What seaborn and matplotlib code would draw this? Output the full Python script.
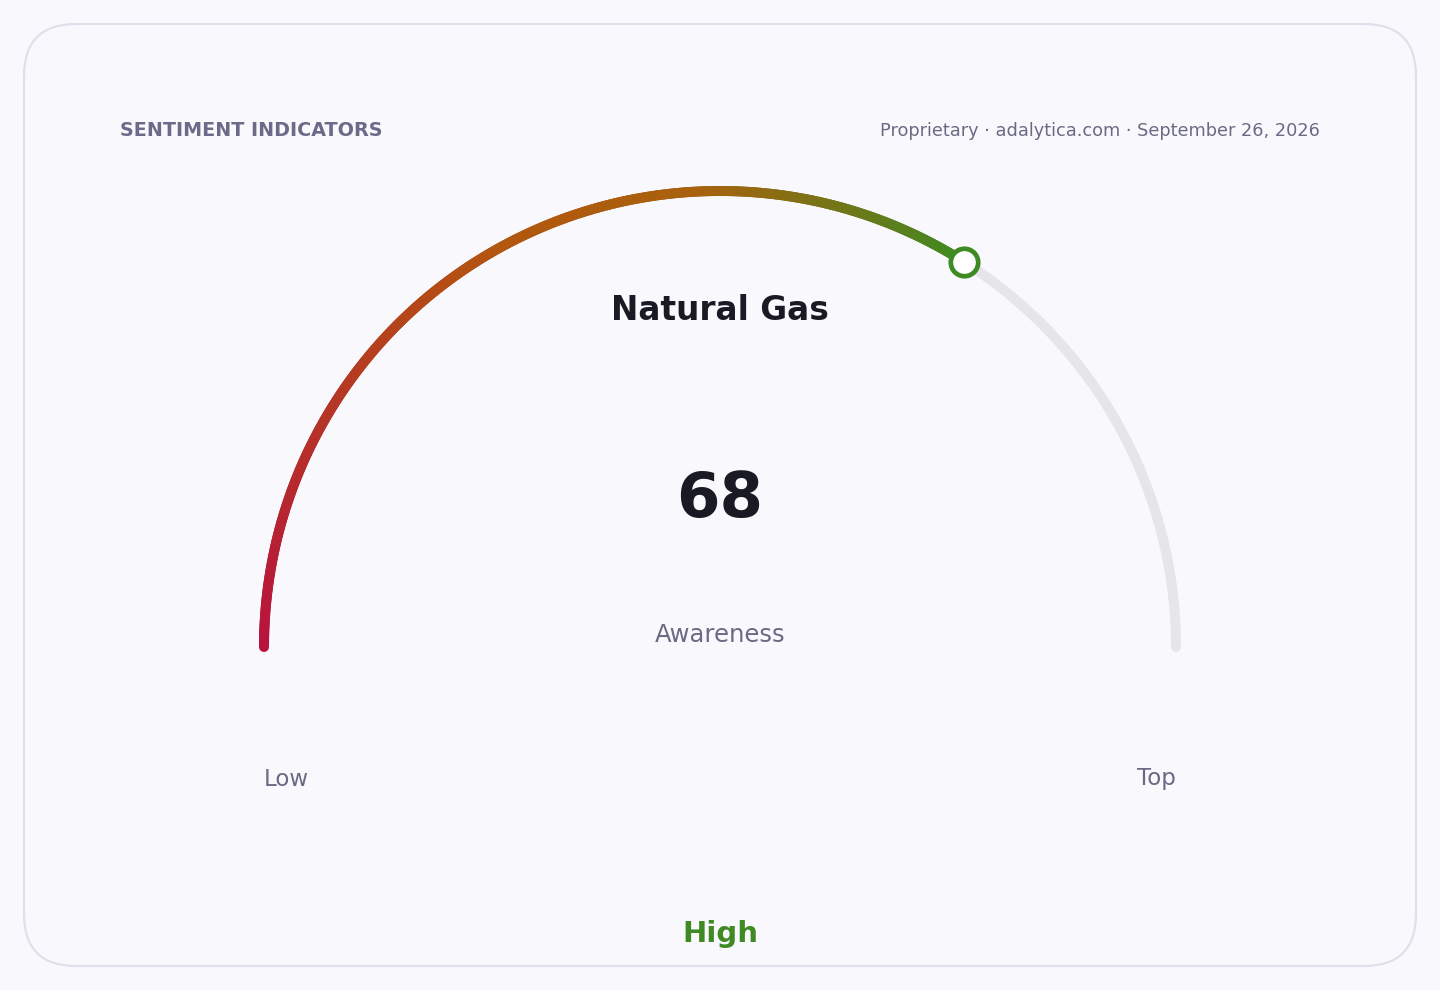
import numpy as np
import pandas as pd
import matplotlib
matplotlib.use("Agg")
import matplotlib.pyplot as plt
import seaborn as sns
from matplotlib.collections import LineCollection
from matplotlib.colors import LinearSegmentedColormap
from matplotlib.patches import FancyBboxPatch

# ---- data ----
title = "Natural Gas"
metric_label = "Awareness"
value = 68
scale_min = 0
scale_max = 100
range_labels = ["Low", "Top"]
status_label = "High"
header_left = "SENTIMENT INDICATORS"
header_right = "Proprietary \u00b7 adalytica.com \u00b7 September 26, 2026"
gradient_colors = ["#b8123e", "#b3560f", "#a8620d", "#3f8a22"]
gradient_stops = [0.0, 0.5, 0.72, 1.0]

sns.set_theme(style="white")
plt.rcParams['font.family'] = ['DejaVu Sans']

W, H = 1440, 990
BG = "#f9f9fd"
fig = plt.figure(figsize=(W / 100, H / 100), dpi=100, facecolor=BG)
ax = fig.add_axes([0, 0, 1, 1])
ax.set_xlim(0, W)
ax.set_ylim(H, 0)
ax.set_facecolor(BG)
ax.axis("off")

# card
card = FancyBboxPatch((24, 24), 1392, 942, boxstyle="round,pad=0,rounding_size=52",
                      facecolor=BG, edgecolor="#e0dfec", linewidth=1.6, zorder=0)
ax.add_patch(card)

cx, cy, R = 720, 647, 456
lw = 7.2

def to_xy(v):
    th = np.pi * (1 - (v - scale_min) / (scale_max - scale_min))
    return cx + R * np.cos(th), cy - R * np.sin(th)

# track
vals_all = np.linspace(scale_min, scale_max, 400)
tx, ty = to_xy(vals_all)
track = pd.DataFrame({"x": tx, "y": ty, "v": vals_all})
sns.lineplot(data=track, x="x", y="y", sort=False, ax=ax, color="#e6e5ea",
             linewidth=lw, solid_capstyle="round", zorder=1, legend=False)

# gradient fill arc
vals = np.linspace(scale_min, value, 400)
fx, fy = to_xy(vals)
pts = np.column_stack([fx, fy]).reshape(-1, 1, 2)
segs = np.concatenate([pts[:-1], pts[1:]], axis=1)
cmap = LinearSegmentedColormap.from_list("g", list(zip(gradient_stops, gradient_colors)))
frac = (vals[:-1] - scale_min) / (value - scale_min)
lc = LineCollection(segs, colors=cmap(frac), linewidths=lw, capstyle="round", zorder=2)
ax.add_collection(lc)

# marker
mx, my = to_xy(np.array([value]))
sns.scatterplot(x=mx, y=my, ax=ax, s=390, color="white", edgecolor="#3f8a22",
                linewidth=3.4, zorder=4, legend=False)

# texts
ax.text(120, 131, header_left, ha="left", va="center", fontsize=13.8, fontweight="bold",
        color="#6b6a88")
ax.text(1320, 131, header_right, ha="right", va="center", fontsize=12.8,
        color="#6b6a85")
ax.text(720, 311, title, ha="center", va="center", fontsize=23.6, fontweight="bold",
        color="#1a1a24")
ax.text(720, 500, str(value), ha="center", va="center", fontsize=45, fontweight="bold",
        color="#1a1a24")
ax.text(720, 635, metric_label, ha="center", va="center", fontsize=17.5,
        color="#6b6a85")
ax.text(264, 779, range_labels[0], ha="left", va="center", fontsize=16.5, color="#6b6a85")
ax.text(1176, 779, range_labels[1], ha="right", va="center", fontsize=16.5, color="#6b6a85")
ax.text(720, 934, status_label, ha="center", va="center", fontsize=21, fontweight="bold",
        color="#3f8a22")

fig.savefig("out.png", dpi=100, facecolor=BG)
